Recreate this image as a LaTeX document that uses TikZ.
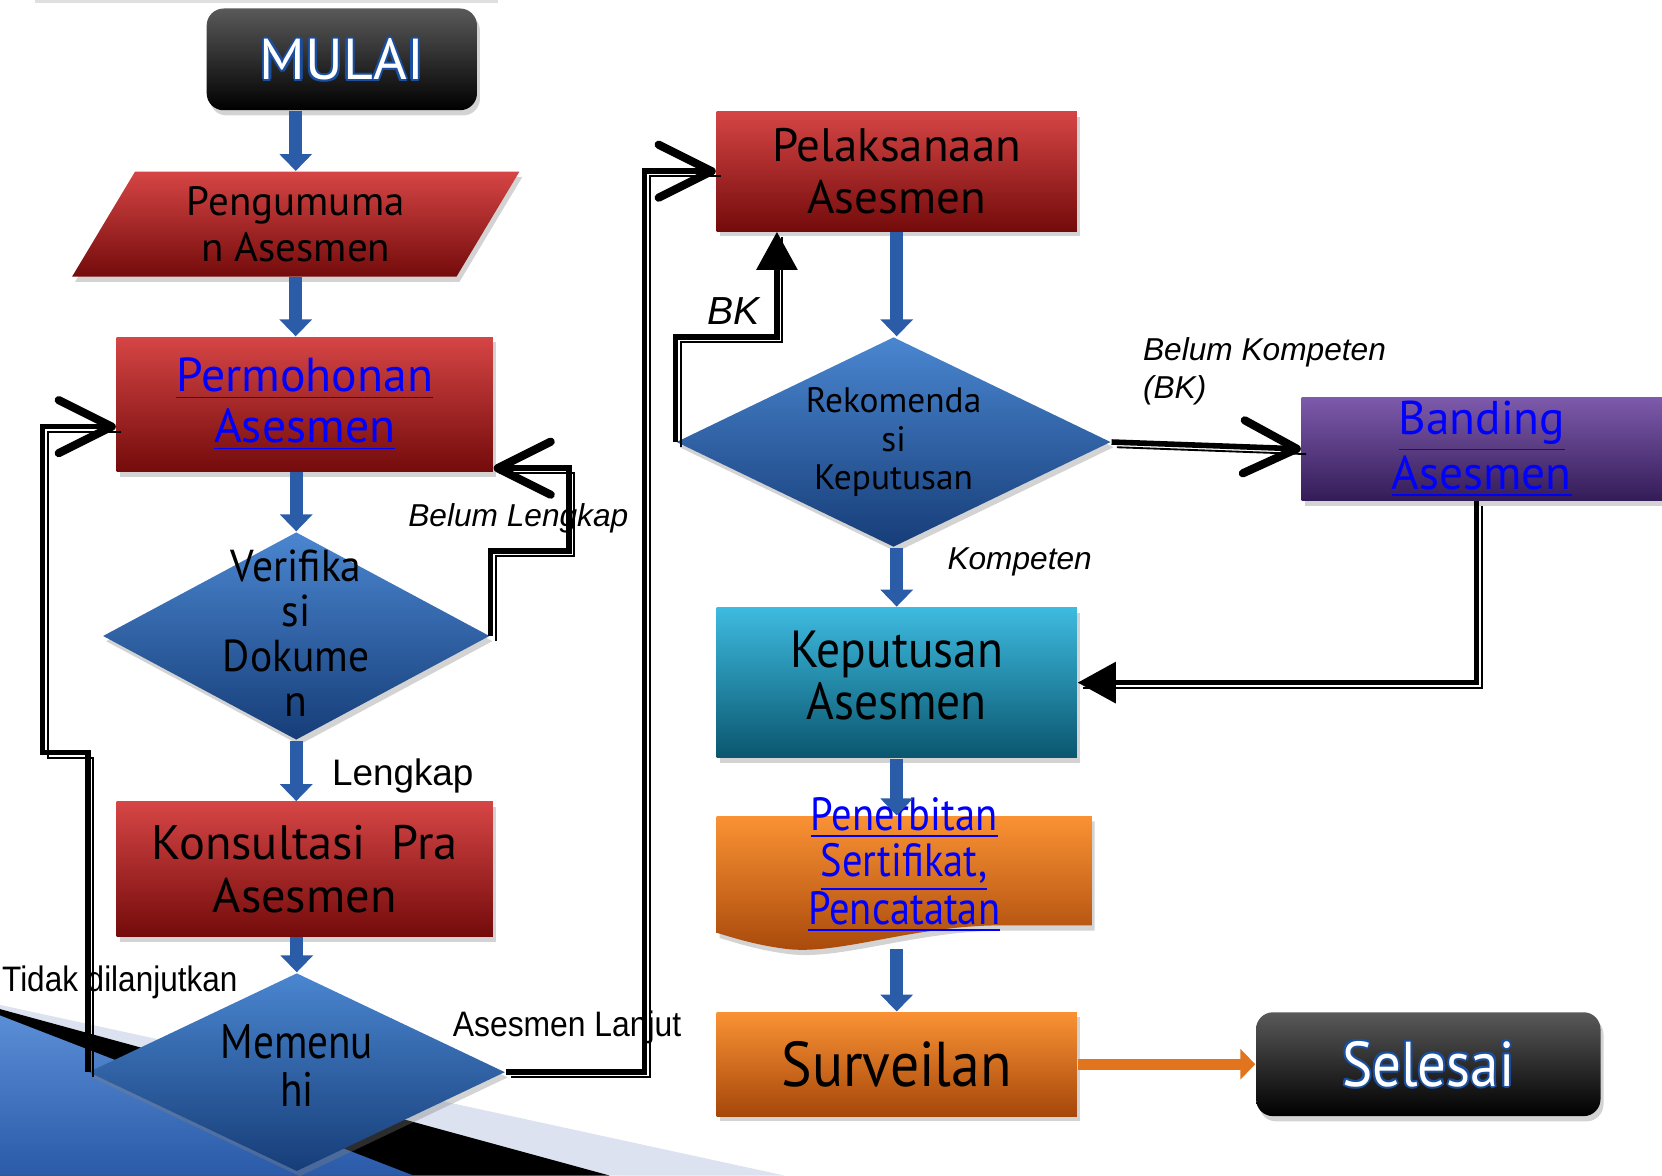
\documentclass[tikz,border=0pt]{standalone}
\usepackage{fontspec}
\usepackage{graphicx}
\setmainfont{PT Sans}
\newfontfamily\labelfont{Liberation Sans}
\usetikzlibrary{shapes.geometric, arrows.meta, shadows}

\definecolor{redtop}{HTML}{D64545}
\definecolor{redbot}{HTML}{740B0B}
\definecolor{bluetop}{HTML}{4A86D0}
\definecolor{bluebot}{HTML}{163D78}
\definecolor{cyantop}{HTML}{3DBBE0}
\definecolor{cyanbot}{HTML}{0A566E}
\definecolor{oratop}{HTML}{FA9234}
\definecolor{orabot}{HTML}{A6470A}
\definecolor{purtop}{HTML}{7D5AAB}
\definecolor{purbot}{HTML}{341C58}
\definecolor{flowblue}{HTML}{2A5CA8}
\definecolor{flowora}{HTML}{E2741E}
\definecolor{linkblue}{HTML}{0000FF}
\definecolor{olblue}{HTML}{1A4FA0}
\definecolor{bggray}{HTML}{DCE2F0}
\definecolor{bgbluetop}{HTML}{5A8ED6}
\definecolor{bgbluebot}{HTML}{2A5AA8}

\newcommand{\oltext}[1]{%
	\rlap{\kern-0.6pt\textcolor{olblue}{#1}}%
	\rlap{\kern0.6pt\textcolor{olblue}{#1}}%
	\rlap{\raisebox{0.6pt}{\textcolor{olblue}{#1}}}%
	\rlap{\raisebox{-0.6pt}{\textcolor{olblue}{#1}}}%
	\rlap{\kern0.42pt\raisebox{0.42pt}{\textcolor{olblue}{#1}}}%
	\rlap{\kern-0.42pt\raisebox{0.42pt}{\textcolor{olblue}{#1}}}%
	\rlap{\kern0.42pt\raisebox{-0.42pt}{\textcolor{olblue}{#1}}}%
	\rlap{\kern-0.42pt\raisebox{-0.42pt}{\textcolor{olblue}{#1}}}%
	\textcolor{white}{#1}}
\newcommand{\narrow}[2]{\scalebox{#1}[1]{\begin{tabular}{@{}c@{}}#2\end{tabular}}}
\newcommand{\link}[1]{\textcolor{linkblue}{\underline{#1}}}

\begin{document}
\begin{tikzpicture}[x=0.1mm, y=-0.1mm,
		shad/.style={drop shadow={shadow xshift=0.8pt, shadow yshift=-1.4pt, opacity=0.35}},
		proc/.style={rectangle, inner sep=0pt, shad, minimum width=35.5mm, minimum height=12.7mm, align=center},
		redbox/.style={proc, top color=redtop, bottom color=redbot},
		dec/.style={diamond, inner sep=0pt, shad, top color=bluetop, bottom color=bluebot},
		term/.style={rectangle, rounded corners=1.6mm, inner sep=0pt, shad, top color=black!65, middle color=black, bottom color=black},
		flow/.style={draw=flowblue, line width=3.6pt, -{Triangle[length=1.6mm, width=3mm]}},
		back/.style={draw=black, line width=1.5pt, preaction={draw, -, line width=0.5pt, transform canvas={shift={(1.4pt,-1.4pt)}}}},
		barb/.style={back, -{Straight Barb[length=5mm, width=5mm, round, line width=2.2pt]}},
		tri/.style={back, -{Triangle[length=3.6mm, width=3.8mm]}},
		lbl/.style={font=\labelfont\fontsize{8.5}{10.2}\selectfont\itshape}
	]
	\useasboundingbox (0,0) rectangle (1568,1109);

	\fill[bggray] (0,948) -- (740,1109) -- (0,1109) -- cycle;
	\fill[black] (0,952) -- (575,1109) -- (0,1109) -- cycle;
	\shade[top color=bgbluetop, bottom color=bgbluebot] (0,958) -- (390,1109) -- (0,1109) -- cycle;
	\draw[gray!25, line width=1pt] (33,1) -- (470,1);

	\node[term, minimum width=25.5mm, minimum height=9.6mm, font=\fontsize{15.5}{16}\selectfont] (mulai) at (322.5,56) {\oltext{MULAI}};
	\node[trapezium, trapezium left angle=50, trapezium right angle=130, trapezium stretches body, minimum width=42.2mm, minimum height=9.9mm, inner sep=0pt, shad, top color=redtop, bottom color=redbot, align=center, font=\fontsize{11}{12.2}\selectfont] (umum) at (279,211.5) {Pengumuma\\n Asesmen};
	\node[redbox, font=\fontsize{12.8}{13.7}\selectfont] (permo) at (287.5,381.5) {\link{Permohonan}\\\link{Asesmen}};
	\node[dec, minimum width=36.5mm, minimum height=19.6mm, label={[yshift=-0.4mm, font=\fontsize{12}{12.1}\selectfont]center:\narrow{0.93}{Verifika\\si\\Dokume\\n}}] (verif) at (279.5,600) {};
	\node[redbox, font=\fontsize{13}{14}\selectfont] (konsul) at (287.5,820) {Konsultasi\ \ Pra\\Asesmen};
	\node[dec, minimum width=39.3mm, minimum height=18.7mm, label={[font=\fontsize{13}{12.2}\selectfont]center:\narrow{0.85}{Memenu\\hi}}] (penuhi) at (280,1011.5) {};

	\node[redbox, minimum width=34mm, minimum height=11.3mm, font=\fontsize{12.6}{14}\selectfont] (laksana) at (846,161.5) {Pelaksanaan\\Asesmen};
	\node[dec, minimum width=41mm, minimum height=19.8mm, label={[font=\fontsize{9.5}{10.4}\selectfont, align=center]center:{Rekomenda\\si\\Keputusan}}] (rekom) at (843,417) {};
	\node[proc, minimum width=34mm, minimum height=9.7mm, top color=purtop, bottom color=purbot, font=\fontsize{12.7}{13.7}\selectfont] (band) at (1398,423.5) {\link{Banding}\\\link{Asesmen}};
	\node[proc, minimum width=34mm, minimum height=14.2mm, top color=cyantop, bottom color=cyanbot, font=\fontsize{14}{13.7}\selectfont] (kepu) at (846,644) {\narrow{0.91}{Keputusan\\Asesmen}};
	\shade[top color=oratop, bottom color=orabot, shad] (676,770) -- (1030,770) -- (1030,873) -- (945,873) .. controls (860,873) and (790,902) .. (740,895) .. controls (710,891) and (690,884) .. (676,880) -- cycle;
	\node[rectangle, inner sep=0pt, minimum width=35.4mm, minimum height=12.5mm, label={[yshift=1.4mm, font=\fontsize{12.5}{12.1}\selectfont]center:\narrow{0.87}{\link{Penerbitan}\\\link{Sertifikat,}\\\link{Pencatatan}}}] (terbit) at (853,832.5) {};
	\node[proc, minimum width=34mm, minimum height=9.8mm, top color=oratop, bottom color=orabot, font=\fontsize{17}{18}\selectfont] (surv) at (846,1004) {\scalebox{0.91}[1]{Surveilan}};
	\node[term, minimum width=32.5mm, minimum height=9.8mm, font=\fontsize{17}{18}\selectfont] (selesai) at (1347.5,1004) {\scalebox{0.9}[1]{\oltext{Selesai}}};

	\draw[flow] (mulai.south -| umum.center) -- (umum.center |- umum.north);
	\draw[flow] (umum.center |- umum.south) -- (umum.center |- permo.north);
	\draw[flow] (verif.north |- permo.south) -- (verif.north);
	\draw[flow] (verif.south) -- (verif.south |- konsul.north);
	\draw[flow] (penuhi.north |- konsul.south) -- (penuhi.north);
	\draw[flow] (laksana.south) -- (laksana.south |- rekom.north);
	\draw[flow] (laksana.south |- rekom.south) -- (kepu.north);
	\draw[flow] (kepu.south) -- (kepu.south |- terbit.north);
	\draw[flow] (surv.north |- terbit.south) -- (surv.north);
	\draw[draw=flowora, line width=3pt, -{Triangle[length=1.4mm, width=2.8mm]}] (surv.east) -- (selesai.west);

	\coordinate (tidak) at (40,710);
	\coordinate (kurang) at (537,520);
	\coordinate (bk) at (733,318);
	\draw[barb] (penuhi.east) -- ++(131,0) |- (laksana.west);
	\draw[barb] (penuhi.west) |- (tidak) |- ([yshift=-2.1mm]permo.west);
	\draw[barb] (verif.east) |- (kurang) |- ([yshift=0.4mm]permo.south east);
	\draw[tri] (rekom.west) |- (bk) -- (bk |- laksana.south);
	\draw[barb] (rekom.east) -- (band.west);
	\draw[tri] ([xshift=-0.5mm]band.south) |- (kepu.east);

	\node[lbl] (belumlbl) at (489,489) {Belum Lengkap};
	\node[font=\labelfont\fontsize{9.9}{11}\selectfont] (lengkaplbl) at (380,732) {Lengkap};
	\node[font=\labelfont\fontsize{9.5}{11}\selectfont] (tidaklbl) at (113,927) {\scalebox{0.89}[1]{Tidak dilanjutkan}};
	\node[font=\labelfont\fontsize{9.5}{11}\selectfont] (lanjutlbl) at (535,969) {\scalebox{0.9}[1]{Asesmen Lanjut}};
	\node[font=\labelfont\fontsize{10.5}{12}\selectfont\itshape] (bklbl) at (692,293) {BK};
	\node[lbl, anchor=west, align=left] (bandinglbl) at (1066,350) {Belum Kompeten\\(BK)};
	\node[lbl] (kompetenlbl) at (962,530) {Kompeten};
\end{tikzpicture}
\end{document}
